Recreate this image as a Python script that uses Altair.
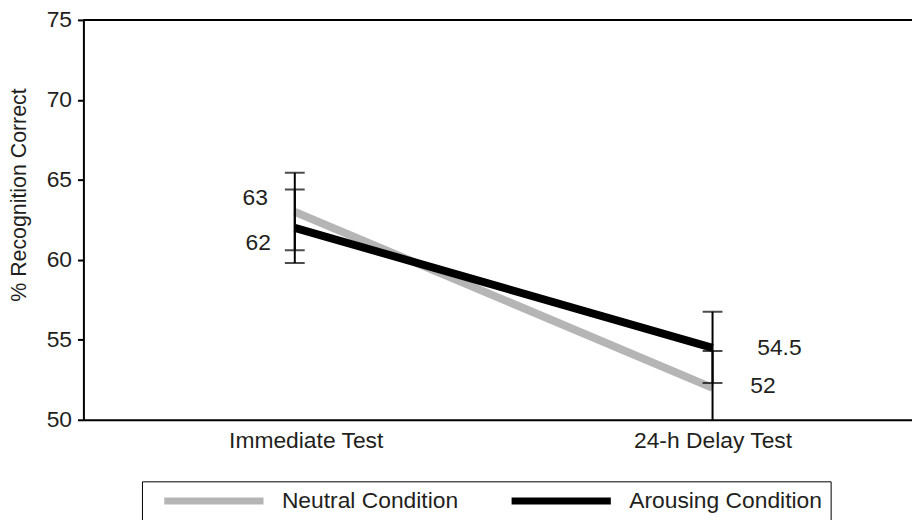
import altair as alt
import pandas as pd

tests = ["Immediate Test", "24-h Delay Test"]
conditions = ["Neutral Condition", "Arousing Condition"]
neutral_mean = [63, 52]
arousing_mean = [62, 54.5]
neutral_lo = [60.6, 49.7]
neutral_hi = [65.45, 54.3]
arousing_lo = [59.8, 52.3]
arousing_hi = [64.4, 56.75]
y_ticks = [50, 55, 60, 65, 70, 75]

rows = []
for i, t in enumerate(tests):
    rows.append({"test": t, "cond": conditions[0], "mean": neutral_mean[i],
                 "lo": neutral_lo[i], "hi": neutral_hi[i]})
    rows.append({"test": t, "cond": conditions[1], "mean": arousing_mean[i],
                 "lo": arousing_lo[i], "hi": arousing_hi[i]})
df = pd.DataFrame(rows)

FONT = "Liberation Sans"
INK = "#231f20"
FS = 23

xscale = alt.Scale(type="point", padding=0.4917, align=0.5145)
xenc = alt.X("test:N", sort=tests, scale=xscale,
             axis=alt.Axis(title=None, ticks=False, labelAngle=0, labelFontSize=FS,
                           labelFont=FONT, labelColor=INK, labelPadding=10,
                           labelOffset={"condition": {"test": "datum.value == 'Immediate Test'",
                                                      "value": 11}, "value": 0},
                           domainColor="black", domainWidth=2))
xplain = alt.X("test:N", sort=tests, scale=xscale)
yscale = alt.Scale(domain=[50, 75], nice=False, zero=False)
yenc = alt.Y("mean:Q", scale=yscale,
             axis=alt.Axis(title="% Recognition Correct", values=y_ticks, grid=False,
                           tickSize=6, tickWidth=2, tickColor="black",
                           domainColor="black", domainWidth=2,
                           labelFontSize=FS, labelFont=FONT, labelColor=INK,
                           labelPadding=6, titleFontSize=21.5, titleFont=FONT,
                           titleFontWeight="normal", titleColor=INK,
                           titleX=-53, titleY=176))

base = alt.Chart(df)

lines = base.mark_line(strokeWidth=8, strokeCap="butt").encode(
    x=xenc, y=yenc,
    color=alt.Color("cond:N", sort=conditions,
                    scale=alt.Scale(domain=conditions, range=["#b5b5b5", "#000000"]),
                    legend=alt.Legend(title=None, orient="none", legendX=59, legendY=465,
                                      direction="horizontal", symbolType="M-10,0H10",
                                      symbolSize=100, symbolStrokeWidth=7,
                                      symbolOffset=53, labelOffset=57,
                                      columnPadding=39, padding=8,
                                      strokeColor="black", labelFontSize=FS,
                                      labelFont=FONT, labelColor=INK, labelLimit=400)),
    order=alt.Order("cond:N", sort="descending"),
)

err = base.mark_rule(color="black", strokeWidth=2, clip=True).encode(
    x=xplain, y=alt.Y("lo:Q", scale=yscale), y2="hi:Q")
cap_lo = base.mark_tick(color="black", size=20, thickness=2, clip=True).encode(
    x=xplain, y=alt.Y("lo:Q", scale=yscale))
cap_hi = base.mark_tick(color="black", size=20, thickness=2, clip=True).encode(
    x=xplain, y=alt.Y("hi:Q", scale=yscale))

top = alt.Chart(pd.DataFrame({"v": [75]})).mark_rule(color="black", strokeWidth=2).encode(
    y=alt.Y("v:Q", scale=yscale))


def label(test, cond, align, dx, dy):
    return base.transform_filter(
        (alt.datum.test == test) & (alt.datum.cond == cond)
    ).mark_text(align=align, baseline="middle", dx=dx, dy=dy, fontSize=FS,
                font=FONT, color=INK).encode(
        x=xplain, y=alt.Y("mean:Q", scale=yscale),
        text=alt.Text("mean:Q", format="~g"))


labels = [
    label(tests[0], conditions[0], "right", -27, -14),
    label(tests[0], conditions[1], "right", -24, 15),
    label(tests[1], conditions[1], "left", 45, 0),
    label(tests[1], conditions[0], "left", 38, -2),
]

chart = alt.layer(top, lines, err, cap_lo, cap_hi, *labels).properties(
    width=835, height=403,
    autosize=alt.AutoSizeParams(type="none"),
    padding={"left": 76, "top": 10, "right": 0, "bottom": 99},
).configure_view(stroke=None).configure_axis(labelFont=FONT, titleFont=FONT)

chart.save("out.html", embed_options={"renderer": "svg", "actions": False})
